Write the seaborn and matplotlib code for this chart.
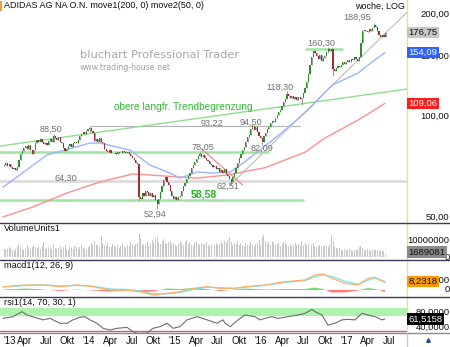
import numpy as np
import pandas as pd
import matplotlib
matplotlib.use("Agg")
import matplotlib.pyplot as plt
import matplotlib.transforms as mtransforms
from matplotlib.lines import Line2D
import seaborn as sns

# ---------------- data ----------------
start_date = "2013-01-04"          # first weekly bar
first_open = 71.0
closes = [
    71.5, 72.5, 71.0, 72.0, 70.5, 69.5, 70.0, 69.0, 70.5, 74.0,
    77.0, 79.0, 80.5, 81.5, 80.0, 82.0, 79.5, 77.0, 79.5, 83.5,
    85.0, 84.0, 85.5, 84.0, 82.5, 83.5, 82.0, 84.5, 85.5, 84.0,
    87.0, 86.0, 85.0, 86.5, 84.0, 83.0, 80.5, 79.0, 80.0, 81.5,
    82.5, 81.0, 83.0, 84.0, 83.0, 85.0, 87.0, 88.5, 89.5, 88.5,
    90.5, 91.5, 92.0, 90.5, 89.0, 84.5, 85.5, 84.0, 86.0, 84.0,
    83.0, 80.0, 79.0, 78.5, 79.5, 78.0, 77.5, 78.0, 77.0, 78.5,
    77.5, 78.0, 79.0, 78.5, 77.5, 78.5, 77.0, 76.0, 75.0, 74.0,
    72.5, 72.0, 57.5, 57.0, 59.0, 58.0, 60.0, 59.5, 58.0, 59.0,
    57.5, 58.5, 56.5, 55.0, 57.0, 59.5, 62.0, 64.5, 66.0, 64.0,
    62.5, 60.0, 58.0, 57.0, 57.5, 56.5, 57.5, 58.0, 60.0, 62.0,
    63.5, 65.0, 66.5, 68.0, 70.0, 71.5, 73.0, 74.5, 76.0, 77.0,
    75.5, 76.5, 75.0, 74.0, 73.5, 72.0, 71.5, 70.5, 71.0, 69.5,
    70.0, 68.5, 69.0, 68.0, 69.5, 67.5, 66.5, 65.0, 64.0, 66.0,
    68.0, 70.0, 72.5, 75.0, 77.0, 79.5, 81.0, 84.0, 86.5, 88.0,
    91.5, 93.5, 91.0, 92.5, 90.0, 87.5, 86.0, 84.0, 87.0, 89.0,
    91.5, 93.0, 95.5, 97.0, 96.0, 99.0, 101.0, 102.5, 104.0, 107.0,
    110.0, 112.5, 116.0, 114.5, 113.0, 115.0, 112.0, 114.0, 111.5, 113.5,
    112.5, 113.0, 117.0, 121.0, 126.0, 133.0, 142.0, 150.0, 156.0, 154.0,
    151.0, 148.0, 152.0, 146.0, 149.0, 151.0, 155.0, 157.5, 156.0, 158.0,
    138.0, 136.0, 138.5, 141.0, 139.5, 142.0, 144.5, 143.0, 145.0, 146.5,
    145.0, 148.0, 147.0, 149.5, 148.0, 146.0, 150.0, 165.0, 178.0, 180.0,
    179.0, 177.5, 180.5, 179.0, 182.0, 185.5, 183.0, 178.0, 174.0, 171.0,
    173.5, 172.0, 176.75,
]
# week index -> (low, high) for the marked pivot candles
wick_extremes = {
    30: (84.0, 88.50), 52: (90.0, 93.22), 82: (56.0, 72.0), 93: (52.94, 56.5),
    119: (76.0, 78.05), 138: (62.51, 65.0), 151: (91.5, 94.50), 157: (82.09, 86.0),
    172: (113.5, 118.30), 181: (108.0, 113.0), 197: (155.0, 160.30),
    200: (131.0, 158.0), 225: (182.0, 188.95),
}
volume_mio = [
    5.0, 4.2, 4.8, 6.1, 5.5, 4.0, 3.8, 4.5, 6.2, 7.5, 5.8, 4.9, 4.3, 5.2, 6.8, 5.1, 4.6, 5.9, 7.2, 6.0, 5.3,
    5.6, 4.8, 6.5, 8.8, 5.2, 4.7, 6.0, 5.5, 4.9, 7.8, 5.4, 4.6, 5.1, 6.3, 4.8, 5.7, 6.9, 5.0, 4.4, 5.8,
    5.2, 4.9, 6.4, 5.6, 4.7, 5.9, 6.8, 5.3, 4.5, 3.9, 5.6, 6.2, 8.0, 7.1, 9.5, 6.8, 7.3, 6.1, 12.5, 8.2,
    7.0, 6.5, 8.4, 6.1, 5.8, 7.5, 6.3, 5.9, 6.8, 5.4, 6.2, 7.7, 5.6, 6.0, 7.2, 6.5, 8.8, 7.4, 6.3, 7.9,
    8.5, 13.8, 11.0, 7.6, 6.8, 7.2, 8.9, 6.5, 7.4, 9.8, 8.1, 10.5, 12.0, 8.7, 7.9, 9.2, 10.8, 8.4, 7.6, 8.9,
    9.6, 7.8, 8.3, 6.9, 6.2, 7.5, 9.0, 8.1, 7.2, 8.6, 9.8, 7.4, 8.9, 7.0, 6.6, 8.2, 9.4, 7.8, 7.1, 8.5,
    7.6, 6.8, 9.1, 7.3, 6.5, 7.9, 6.4, 7.2, 8.0, 6.9, 7.7, 8.6, 7.4, 9.5, 8.2, 10.2, 11.5, 8.8, 7.3, 8.1,
    7.5, 9.2, 6.8, 8.4, 7.1, 6.6, 8.0, 7.3, 6.9, 8.8, 7.6, 6.4, 7.8, 8.5, 9.9, 7.0, 11.8, 13.0, 9.4, 7.7,
    8.6, 7.2, 9.5, 8.1, 6.9, 7.6, 8.3, 6.7, 7.9, 9.0, 8.2, 7.4, 6.6, 7.8, 6.3, 7.1, 8.5, 6.8, 7.5, 6.4,
    9.2, 7.0, 8.1, 6.9, 7.6, 6.3, 7.2, 8.0, 6.7, 5.9, 6.6, 7.3, 6.1, 5.8, 6.9, 6.4, 5.7, 6.8, 12.8, 9.6,
    6.0, 5.2, 4.6, 5.5, 4.3, 4.0, 5.0, 4.4, 3.9, 4.7, 4.2, 3.8, 4.4, 4.0, 4.8, 6.1, 6.6, 5.3, 4.3, 4.1,
    4.5, 4.0, 3.7, 4.3, 3.9, 4.1, 4.4, 3.8, 4.0, 3.6, 3.8, 1.689081,
]
ma50_wk = [-0.7, 26.0, 52.2, 58.3, 76.5, 88.7, 100.9, 107.0, 117.3, 127.0, 137.4,
           145.3, 155.6, 170.8, 184.8, 199.4, 215.2, 223.7, 231.6]
ma50_val = [61.6, 76.7, 83.2, 83.2, 79.3, 71.6, 67.8, 65.5, 68.3, 67.8, 68.3,
            72.6, 79.3, 90.9, 104.2, 123.5, 134.0, 144.5, 154.09]
ma200_wk = [-0.7, 17.5, 38.2, 58.3, 78.3, 96.6, 117.3, 135.5, 146.5, 158.6,
            183.0, 195.1, 215.2, 231.6]
ma200_val = [50.3, 53.8, 59.2, 63.8, 67.4, 66.5, 65.5, 66.9, 68.5, 70.3,
             78.2, 86.1, 97.3, 109.06]
rsi_wk = [-0.7, 5.4, 10.8, 13.9, 17.5, 23.6, 27.9, 33.9, 38.2, 41.8, 46.1, 49.1,
          52.2, 56.4, 60.1, 64.4, 68.6, 74.7, 78.3, 81.4, 86.9, 90.5, 94.8, 99.1,
          102.7, 107.0, 111.2, 117.3, 123.4, 129.4, 133.1, 134.3, 137.4, 142.2,
          146.5, 152.5, 155.6, 158.6, 162.9, 166.5, 172.6, 178.7, 183.0, 187.2,
          189.0, 193.3, 196.9, 201.2, 205.5, 209.1, 213.4, 217.6, 221.3, 225.6,
          229.8, 231.6]
rsi_val = [63, 67.5, 81, 72, 67, 59, 63, 50, 50, 59, 66, 67.5,
           59, 50, 36.5, 32, 36.5, 39, 27.5, 23, 24, 36.5, 41, 50,
           36.5, 41, 59, 67.5, 59, 50, 59, 50, 41, 59,
           72, 67.5, 59, 63, 67.5, 63, 67.5, 72, 76.5, 87,
           81, 72, 45, 50, 59, 60.5, 59, 76.5, 72, 67.5,
           59, 61.5158]
macd_wk = [-0.7, 13.9, 23.6, 33.9, 44.3, 54.0, 64.4, 74.7, 82.6, 90.5, 99.1, 107.0,
           114.8, 123.4, 131.3, 140.4, 146.5, 158.6, 170.8, 183.0, 189.0, 193.9,
           199.4, 207.3, 215.3, 221.3, 225.6, 231.6]
macd_val = [3.3, 5.0, 5.0, 3.3, 5.0, 3.3, 0.0, 0.0, -1.7, -5.0, -3.3, -1.7,
            1.7, 3.3, 1.7, 1.7, 3.3, 5.0, 8.3, 10.0, 15.0, 16.0,
            11.7, 6.7, 5.0, 11.7, 12.7, 8.2318]
signal_val = [3.0, 4.6, 5.2, 4.0, 4.6, 3.8, 1.0, 0.6, -0.8, -3.8, -3.8, -2.4,
              0.6, 2.8, 2.2, 1.6, 2.8, 4.6, 7.6, 9.4, 13.2, 15.2,
              13.4, 8.8, 5.8, 9.8, 12.0, 7.4]
hist_val = [0.5, 1.5, 0.5, -1.0, 0.5, -0.5, -1.5, -0.5, -2.0, -1.5, 1.5, 1.0,
            2.0, 1.0, -1.0, 0.5, 1.5, 0.5, 1.0, 1.0, 2.5, 1.0,
            -2.5, -2.5, -0.5, 2.0, 1.0, -1.5]
quarter_starts = pd.date_range("2013-01-01", "2017-07-01", freq="QS")
quarter_labels = ["'13", "Apr", "Jul", "Okt", "'14", "Apr", "Jul", "Okt",
                  "'15", "Apr", "Jul", "Okt", "'16", "Apr", "Jul", "Okt",
                  "'17", "Apr", "Jul"]
# drawn levels: (price, first week, last week, kind)
levels = [(64.30, -3, 246, "grey"), (93.22, 52.5, 180.0, "thin"),
          (78.05, -3, 160.5, "green"), (56.4, -3, 181.7, "green"),
          (157.9, 183.6, 205.5, "green")]
trend_green = ([-2.55, 245.0], [81.5, 120.2])
trend_grey = ([137.5, 245.0], [62.5, 203.0])
trend_red = ([120.0, 145.0], [80.0, 62.5])
# pivot labels: (text, week, price)
pivot_labels = [("88,50", 28.5, 91.5), ("93,22", 126.4, 95.3), ("78,05", 121.0, 80.9),
                ("64,30", 37.6, 65.6), ("62,51", 136.1, 61.9), ("52,94", 91.7, 51.3),
                ("94,50", 150.1, 96.0), ("82,09", 156.8, 80.4), ("118,30", 167.8, 121.8),
                ("160,30", 192.7, 164.4), ("188,95", 214.6, 196.2)]

# ---------------- figure ----------------
W, H = 450, 347
sns.set_style("white")
plt.rcParams["font.family"] = ["Liberation Sans", "DejaVu Sans"]

fig = plt.figure(figsize=(W / 100, H / 100), dpi=100)
fig.patch.set_facecolor("white")
PR = 407 / W


def fy(py):
    return 1 - py / H


ax_p = fig.add_axes([0, fy(223), PR, 223 / H])
ax_v = fig.add_axes([0, fy(260), PR, 37 / H])
ax_m = fig.add_axes([0, fy(297), PR, 37 / H])
ax_r = fig.add_axes([0, fy(333), PR, 36 / H])
XL = (-2.55, 245.0)
for ax in (ax_p, ax_v, ax_m, ax_r):
    ax.set_xlim(*XL)
    for s in ax.spines.values():
        s.set_visible(False)
    ax.spines["right"].set_visible(True)
    ax.spines["right"].set_color("#eedc98")
    ax.spines["right"].set_linewidth(1.0)
    ax.set_xticks([])
    ax.tick_params(axis="y", left=False, right=False, labelleft=False, labelright=False)
    ax.set_facecolor("white")

# ---- price panel ----
ax_p.set_yscale("log")
ax_p.set_ylim(48.24, 220.6)
ax_p.minorticks_off()
ax_p.set_yticks([])

c = np.asarray(closes)
wk = np.arange(len(c))
o = np.r_[first_open, c[:-1]]
blo = np.minimum(o, c)
bhi = np.maximum(o, c)
lo = blo.copy()
hi = bhi.copy()
for k, (l, h) in wick_extremes.items():
    lo[k] = l
    hi[k] = h

for lv, a, b, kind in levels:
    if kind == "grey":
        ax_p.plot([a, b], [lv, lv], color="#dcdcdc", lw=2.0, zorder=1)
    elif kind == "thin":
        ax_p.plot([a, b], [lv, lv], color="#b4b4b4", lw=0.8, zorder=1)
    else:
        ax_p.plot([a, b], [lv, lv], color="#9fe59f", lw=1.8, zorder=1)

ax_p.plot(*trend_green, color="#8fdc8f", lw=1.0, zorder=2)
ax_p.plot(*trend_grey, color="#c4c4c4", lw=0.9, zorder=2)
ax_p.plot(*trend_red, color="#f08080", lw=0.8, zorder=2)

sns.lineplot(x=ma200_wk, y=ma200_val, ax=ax_p, color="#ff8f8f", lw=1.0,
             estimator=None, legend=False, zorder=3)
sns.lineplot(x=ma50_wk, y=ma50_val, ax=ax_p, color="#9db4ff", lw=1.0,
             estimator=None, legend=False, zorder=3)

ax_p.vlines(wk, lo, hi, color="#8c8c8c", lw=0.6, zorder=4)
up = c >= o
ax_p.bar(wk[up], (bhi - blo)[up], bottom=blo[up], width=0.7, color="#2f8f2f",
         linewidth=0, zorder=5)
ax_p.bar(wk[~up], (bhi - blo)[~up], bottom=blo[~up], width=0.7, color="#a02c32",
         linewidth=0, zorder=5)
ax_p.set_xlim(*XL)
ax_p.set_xlabel("")
ax_p.set_ylabel("")

for txt, x, y in pivot_labels:
    ax_p.text(x, y, txt, ha="center", va="center", fontsize=6.6, color="#707070", zorder=6)
ax_p.text(121.5, 58.4, "58,58", ha="center", va="center", fontsize=7.6,
          color="#22b822", fontweight="bold", zorder=6)
ax_p.text(108.9, 106.3, "obere langfr. Trendbegrenzung", ha="center", va="center",
          fontsize=7.3, color="#33bb33", zorder=6)

# texts in pixel positions
fig.text(80 / W, fy(55), "bluchart Professional Trader", fontsize=8.2,
         color="#a8a8a8", family="DejaVu Sans", va="center", ha="left")
fig.text(80 / W, fy(68), "www.trading-house.net", fontsize=5.6,
         color="#a0a0a0", family="DejaVu Sans", va="center", ha="left")
fig.text(4 / W, fy(6), "ADIDAS AG NA O.N. move1(200, 0) move2(50, 0)", fontsize=6.5,
         color="#111111", va="center", ha="left")
fig.add_artist(plt.Rectangle((0, fy(11)), 2 / W, 10 / H, transform=fig.transFigure,
                             color="#f0a030", lw=0))
fig.text(405 / W, fy(6), "woche, LOG", fontsize=6.5, color="#111111",
         va="center", ha="right")


def fmt(v, d):
    return f"{v:.{d}f}".replace(".", ",")


def right_labels(ax, vals, texts):
    tr = mtransforms.blended_transform_factory(fig.transFigure, ax.transData)
    for v, t in zip(vals, texts):
        ax.text(449.5 / W, v, t, transform=tr, ha="right", va="center", fontsize=6.8,
                color="#111111", clip_on=False, zorder=1)


def value_box(ax, v, t, fc, tc, z=20):
    ax.text(1.0 + 1.5 / 407, v, t, transform=ax.get_yaxis_transform(), ha="left",
            va="center", fontsize=6.8, color=tc, clip_on=False, zorder=z,
            bbox=dict(boxstyle="square,pad=0.12", fc=fc, ec="none"))


right_labels(ax_p, [200, 150, 100, 50], ["200,00", "150,00", "100,00", "50,00"])
value_box(ax_p, closes[-1], fmt(closes[-1], 2), "#c6c6c6", "#111111")
value_box(ax_p, ma50_val[-1], fmt(ma50_val[-1], 2), "#2d62ff", "white")
value_box(ax_p, ma200_val[-1], fmt(ma200_val[-1], 2), "#ff1c1c", "white")

# ---- volume panel ----
ax_v.set_ylim(-1.76, 20.0)
ax_v.bar(wk, volume_mio, width=0.6, color="#c9c9c9", linewidth=0)
ax_v.set_xlim(*XL)
ax_v.text(4 / 407, 0.86, "VolumeUnits1", transform=ax_v.transAxes, fontsize=6.6,
          color="#111111", va="center", ha="left")
right_labels(ax_v, [10, 0], ["10000000", "0"])
value_box(ax_v, volume_mio[-1] + 1.2, f"{int(round(volume_mio[-1] * 1e6))}", "#8a8a8a", "#111111")

# ---- macd panel ----
ax_m.set_ylim(-7, 30)
hv = np.asarray(hist_val)
ax_m.fill_between(macd_wk, 0, hv, where=hv >= 0, interpolate=True, color="#6fe06f", lw=0)
ax_m.fill_between(macd_wk, 0, hv, where=hv <= 0, interpolate=True, color="#ff7a7a", lw=0)
sns.lineplot(x=macd_wk, y=signal_val, ax=ax_m, color="#6fe8f5", lw=0.9,
             estimator=None, legend=False)
sns.lineplot(x=macd_wk, y=macd_val, ax=ax_m, color="#ffb060", lw=0.9,
             estimator=None, legend=False)
ax_m.set_xlim(*XL)
ax_m.set_xlabel("")
ax_m.set_ylabel("")
ax_m.set_yticks([])
ax_m.text(4 / 407, 0.86, "macd1(12, 26, 9)", transform=ax_m.transAxes, fontsize=6.6,
          color="#111111", va="center", ha="left")
right_labels(ax_m, [10, 0], ["10,0000", "0"])
# cyan signal marker peeking out below the MACD value box
tr_m = mtransforms.blended_transform_factory(ax_m.transAxes, ax_m.transData)
ax_m.add_patch(plt.Rectangle((1.0 + 1.5 / 407, signal_val[-1] - 4.3), 26 / 407, 6.0,
                             transform=tr_m, color="#55e6f5", lw=0, clip_on=False, zorder=19))
value_box(ax_m, macd_val[-1], fmt(macd_val[-1], 4), "#ff9a00", "#111111")

# ---- rsi panel ----
ax_r.set_ylim(24, 120)
ax_r.axhspan(70, 90, color="#aef2ae", lw=0, zorder=0)
ax_r.axhline(30, color="#e06060", lw=1.0, zorder=1)
sns.lineplot(x=rsi_wk, y=rsi_val, ax=ax_r, color="#6e6e6e", lw=0.8,
             estimator=None, legend=False, zorder=2)
ax_r.set_xlim(*XL)
ax_r.set_xlabel("")
ax_r.set_ylabel("")
ax_r.set_yticks([])
ax_r.text(4 / 407, 0.86, "rsi1(14, 70, 30, 1)", transform=ax_r.transAxes, fontsize=6.6,
          color="#111111", va="center", ha="left")
right_labels(ax_r, [80, 40], ["80,0000", "40,0000"])
value_box(ax_r, rsi_val[-1], fmt(rsi_val[-1], 4), "#000000", "white")

# x axis labels
base = pd.Timestamp(start_date)
tick_pos = [(d - base).days / 7 for d in quarter_starts]
ax_r.set_xticks(tick_pos)
ax_r.set_xticklabels(quarter_labels, fontsize=7, color="#111111")
ax_r.tick_params(axis="x", length=0, pad=2.5)
first_lbl = ax_r.get_xticklabels()[0]
first_lbl.set_horizontalalignment("left")
first_lbl.set_x(XL[0])

# separators
for py, col in [(223, "#3c3c58"), (260, "#3c3c58"), (297, "#3c3c58"), (333, "#8a8a98")]:
    fig.add_artist(Line2D([0, 1], [fy(py), fy(py)], transform=fig.transFigure,
                          color=col, lw=1.0))
fig.add_artist(Line2D([PR, PR], [0, fy(333)], transform=fig.transFigure,
                      color="#c8c8d0", lw=1.0))
fig.add_artist(Line2D([428 / W], [fy(340)], transform=fig.transFigure, marker="^",
                      markersize=2.5, color="#2040a0", lw=0))

fig.savefig("out.png", dpi=100)
